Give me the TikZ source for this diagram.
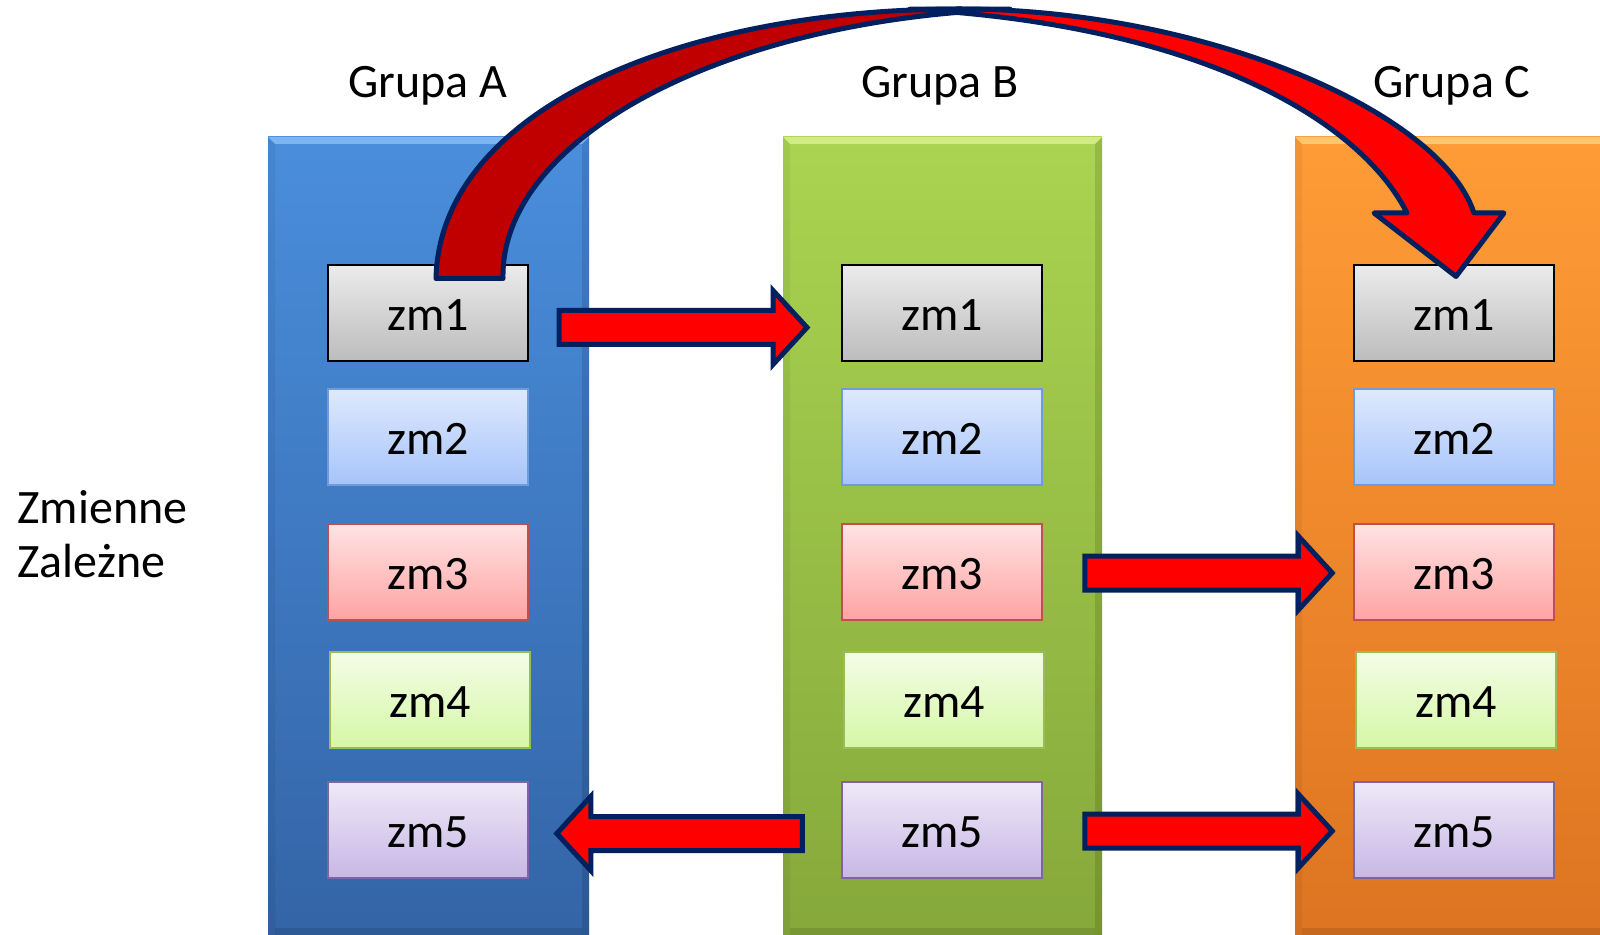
\documentclass[tikz,border=0pt]{standalone}
\usepackage{fontspec}
\setmainfont{Carlito}
\usetikzlibrary{calc}

\definecolor{navy}{HTML}{002060}
\definecolor{deepred}{HTML}{C00000}
\definecolor{brightred}{HTML}{FF0000}
% column colours
\definecolor{blueTop}{HTML}{4A8EDC}
\definecolor{blueBot}{HTML}{3364A6}
\definecolor{blueBev}{HTML}{7DB5F0}
\definecolor{greenTop}{HTML}{AAD451}
\definecolor{greenBot}{HTML}{86A83B}
\definecolor{greenBev}{HTML}{D2EC85}
\definecolor{orangeTop}{HTML}{FF9C36}
\definecolor{orangeBot}{HTML}{DD7421}
\definecolor{orangeBev}{HTML}{FFC66E}
% variable box colours
\definecolor{grayTop}{HTML}{EBEBEB}
\definecolor{grayBot}{HTML}{BCBCBC}
\definecolor{bluBoxTop}{HTML}{DFE9FD}
\definecolor{bluBoxBot}{HTML}{A6C4FA}
\definecolor{bluBoxLine}{HTML}{6F9BDB}
\definecolor{redBoxTop}{HTML}{FFE3E3}
\definecolor{redBoxBot}{HTML}{FFA3A3}
\definecolor{redBoxLine}{HTML}{C0504D}
\definecolor{grnBoxTop}{HTML}{F3FDE6}
\definecolor{grnBoxBot}{HTML}{D6F7A6}
\definecolor{grnBoxLine}{HTML}{9BBB59}
\definecolor{vioBoxTop}{HTML}{EEE9F7}
\definecolor{vioBoxBot}{HTML}{C8B7E5}
\definecolor{vioBoxLine}{HTML}{8064A2}

% a group column with bevelled edges
\newcommand\groupcol[5]{% #1 left, #2 right, #3 top colour, #4 bottom colour, #5 bevel colour
  \shade[top color=#3, bottom color=#4] (#1,137) rectangle (#2,940);
  \fill[#5] (#1,137) -- (#2,137) -- ({#2-7},144) -- ({#1+7},144) -- cycle;
  \fill[black, opacity=0.12] ({#2-7},144) -- (#2,137) -- (#2,940) -- ({#2-7},940) -- cycle;
  \fill[black, opacity=0.05] (#1,137) -- ({#1+7},144) -- ({#1+7},940) -- (#1,940) -- cycle;
  \fill[black, opacity=0.10] ({#1+7},928) -- ({#2-7},928) -- ({#2-7},940) -- ({#1+7},940) -- cycle;
}

% a horizontal block arrow from #1 to #2
\newcommand\blockarrow[2]{%
  \filldraw[blockarr] let \p1=(#1), \p2=(#2), \n1={ifthenelse(\x2>\x1,1,-1)} in
    (\x1,{\y1+8.5pt}) -- ({\x2-\n1*17pt},{\y1+8.5pt}) -- ({\x2-\n1*17pt},{\y1+18.5pt})
    -- (\x2,\y1) -- ({\x2-\n1*17pt},{\y1-18.5pt}) -- ({\x2-\n1*17pt},{\y1-8.5pt})
    -- (\x1,{\y1-8.5pt}) -- cycle;
}

\begin{document}
\begin{tikzpicture}[x=0.5pt, y=-0.5pt,
  txt/.style={font=\fontsize{24}{29}\selectfont, inner sep=0pt},
  varbox/.style={txt, minimum width=100pt, minimum height=48pt,
    text height=17.5pt, text depth=0pt, draw, line width=0.75pt},
  zmgray/.style={varbox, draw=black, line width=1pt, top color=grayTop, bottom color=grayBot},
  zmblue/.style={varbox, draw=bluBoxLine, top color=bluBoxTop, bottom color=bluBoxBot},
  zmred/.style={varbox, draw=redBoxLine, top color=redBoxTop, bottom color=redBoxBot},
  zmgreen/.style={varbox, draw=grnBoxLine, top color=grnBoxTop, bottom color=grnBoxBot},
  zmviolet/.style={varbox, draw=vioBoxLine, top color=vioBoxTop, bottom color=vioBoxBot},
  blockarr/.style={draw=navy, fill=brightred, line width=2.5pt, line join=miter},
  curvearr/.style={draw=navy, line width=2.5pt, line join=round}
]
\useasboundingbox (0,0) rectangle (1600,935);

% columns
\groupcol{268}{589}{blueTop}{blueBot}{blueBev}
\groupcol{783}{1102}{greenTop}{greenBot}{greenBev}
\groupcol{1295}{1615}{orangeTop}{orangeBot}{orangeBev}

% headers
\node[txt, anchor=base] (hA) at (428,98) {Grupa A};
\node[txt, anchor=base] (hB) at (940,98) {Grupa B};
\node[txt, anchor=base] (hC) at (1452,98) {Grupa C};

% side label
\node[txt, anchor=base west] (lab1) at (17,523) {Zmienne};
\node[txt, anchor=base west] (lab2) at (17,577) {Zależne};

% variable boxes
\foreach \g/\x in {A/428, B/942, C/1454} {
  \node[zmgray]   (\g1) at (\x,313.5) {zm1};
  \node[zmblue]   (\g2) at (\x,437)   {zm2};
  \node[zmred]    (\g3) at (\x,572)   {zm3};
  \node[zmgreen]  (\g4) at ({\x+2},700) {zm4};
  \node[zmviolet] (\g5) at (\x,830)   {zm5};
}

% straight arrows
\coordinate (a1s) at ($(A1.east)+(30,14)$);
\coordinate (a1e) at ($(B1.west)+(-34,14)$);
\coordinate (a3s) at ($(B3.east)+(42,1)$);
\coordinate (a3e) at ($(C3.west)+(-21,1)$);
\coordinate (a5s) at ($(B5.east)+(42,1)$);
\coordinate (a5e) at ($(C5.west)+(-21,1)$);
\coordinate (b5s) at ($(B5.west)+(-39,3.5)$);
\coordinate (b5e) at ($(A5.east)+(28,3.5)$);
\blockarrow{a1s}{a1e}
\blockarrow{a3s}{a3e}
\blockarrow{a5s}{a5e}
\blockarrow{b5s}{b5e}

% curved arrow from A/zm1 over the top to C/zm1:
% dark back face rising from the tail, bright front face ending in the head
\coordinate (cTailL) at ($(A1.north)+(8,14)$);
\coordinate (cTailR) at ($(A1.north)+(75,14)$);
\coordinate (cTip) at ($(C1.north)+(2,12)$);
\coordinate (apex) at (960,9);
\filldraw[curvearr, fill=deepred]
  (cTailL) .. controls (440,110) and (680,9) .. (apex) -- (1010,9.2)
  .. controls (720,20) and (500,140) .. (cTailR) -- cycle;
\filldraw[curvearr, fill=brightred]
  (910,9.1) -- (apex) .. controls (1200,9) and (1440,110) .. (1474,213)
  -- (1504,213) -- (cTip) -- (1374,213) -- (1407,213)
  .. controls (1360,120) and (1200,25) .. cycle;
\end{tikzpicture}
\end{document}
